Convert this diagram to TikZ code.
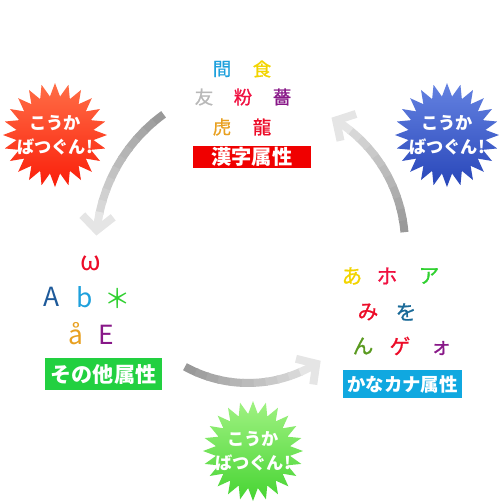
\documentclass[tikz,border=0pt]{standalone}
\usepackage{fontspec}
\setmainfont{Noto Sans CJK JP}
\newfontfamily\glyphfont{Noto Sans CJK JP}[FakeBold=0.9]
\usetikzlibrary{positioning,shapes.geometric,arrows.meta,calc}

\definecolor{kanjitag}{RGB}{240,0,0}
\definecolor{othertag}{RGB}{34,208,64}
\definecolor{kanatag}{RGB}{16,168,224}
\definecolor{gcyan}{RGB}{30,160,220}
\definecolor{gyellow}{RGB}{242,212,0}
\definecolor{ggray}{RGB}{184,184,184}
\definecolor{gpink}{RGB}{240,16,64}
\definecolor{gpurple}{RGB}{136,24,136}
\definecolor{gorange}{RGB}{232,160,32}
\definecolor{gred}{RGB}{236,12,40}
\definecolor{gnavy}{RGB}{30,90,154}
\definecolor{ggreen}{RGB}{48,208,48}
\definecolor{gteal}{RGB}{26,106,152}
\definecolor{golive}{RGB}{90,154,32}
\definecolor{redtop}{RGB}{255,110,70}
\definecolor{redbottom}{RGB}{250,30,10}
\definecolor{bluetop}{RGB}{100,130,225}
\definecolor{bluebottom}{RGB}{40,70,185}
\definecolor{greentop}{RGB}{160,242,130}
\definecolor{greenbottom}{RGB}{70,212,50}

\tikzset{
  glyph/.style={inner sep=0pt, font=\glyphfont\fontsize{10.5}{12}\selectfont},
  kanaglyph/.style={glyph, font=\glyphfont\fontsize{11.8}{13}\selectfont},
  latin/.style={inner sep=0pt, font=\fontsize{15}{17}\selectfont},
  tagbox/.style={fill=#1, text=white, inner sep=0pt,
    font=\bfseries\fontsize{11.5}{13}\selectfont},
  burst/.style={star, star points=24, star point ratio=1.34,
    minimum size=2.08cm, inner sep=0pt},
  bursttext/.style={align=center, text=white, inner sep=0pt,
    font=\bfseries\fontsize{9.8}{13.8}\selectfont},
  ringline/.style={line width=0.16cm}
}

% fading arc: centre, radius, start angle, end angle
\newcommand{\fadearc}[4]{%
  \foreach \i in {0,...,9} {
    \pgfmathsetmacro{\sa}{#3+(#4-#3)*\i/12}
    \pgfmathsetmacro{\ea}{#3+(#4-#3)*(\i+1)/12+0.8}
    \pgfmathsetmacro{\gl}{40-2.7*\i}
    \draw[ringline, draw=black!\gl] ($(#1)+(\sa:#2)$)
      arc[start angle=\sa, end angle=\ea, radius=#2];
  }
  \pgfmathsetmacro{\sa}{#3+(#4-#3)*10/12}
  \draw[ringline, draw=black!10,
    -{Straight Barb[length=0.28cm, width=0.62cm, sharp]}] ($(#1)+(\sa:#2)$)
    arc[start angle=\sa, end angle=#4, radius=#2];
}

\begin{document}
\begin{tikzpicture}

	\useasboundingbox (0,0) rectangle (10.06,-10.04);

	% kanji group
	\node[glyph, text=gcyan] (kan1) at (4.44,-1.38) {間};
	\node[glyph, text=gyellow] (kan2) at (5.24,-1.38) {食};
	\node[glyph, text=ggray] (kan3) at (4.08,-1.94) {友};
	\node[glyph, text=gpink] (kan4) at (4.86,-1.94) {粉};
	\node[glyph, text=gpurple] (kan5) at (5.64,-1.94) {薔};
	\node[glyph, text=gorange] (kan6) at (4.44,-2.54) {虎};
	\node[glyph, text=gred] (kan7) at (5.24,-2.54) {龍};
	\node[tagbox=kanjitag,
	minimum width=2.36cm,
	minimum height=0.44cm] (KANJI) at (5.04,-3.14) {漢字属性};

	% other group
	\node[latin, text=gred] (oth1) at (1.82,-5.26) {ω};
	\node[latin, text=gnavy] (oth2) at (1.04,-5.94) {A};
	\node[latin, text=gcyan] (oth3) at (1.70,-5.94) {b};
	\node[latin, text=ggreen] (oth4) at (2.36,-5.96) {＊};
	\node[latin, text=gorange] (oth5) at (1.52,-6.68) {å};
	\node[latin, text=gpurple] (oth6) at (2.12,-6.70) {E};
	\node[tagbox=othertag,
	font=\bfseries\fontsize{12}{14}\selectfont,
	minimum width=2.34cm,
	minimum height=0.64cm] (OTHER) at (2.07,-7.48) {その他属性};

	% kana group
	\node[kanaglyph, text=gyellow] (kana1) at (7.04,-5.52) {あ};
	\node[kanaglyph, text=gpink] (kana2) at (7.74,-5.52) {ホ};
	\node[kanaglyph, text=ggreen] (kana3) at (8.58,-5.52) {ア};
	\node[kanaglyph, text=gred] (kana4) at (7.36,-6.24) {み};
	\node[kanaglyph, text=gteal] (kana5) at (8.12,-6.24) {を};
	\node[kanaglyph, text=golive] (kana6) at (7.26,-6.92) {ん};
	\node[kanaglyph, text=gred] (kana7) at (8.00,-6.92) {ゲ};
	\node[kanaglyph, text=gpurple] (kana8) at (8.82,-6.96) {ォ};
	\node[tagbox=kanatag,
	font=\bfseries\fontsize{10.5}{12}\selectfont,
	minimum width=2.38cm,
	minimum height=0.56cm] (KANA) at (8.05,-7.68) {かなカナ属性};

	% starbursts
	\node[burst, top color=redtop, bottom color=redbottom] (REDSTAR) at (1.10,-2.70) {};
	\node[bursttext] (t1) at (REDSTAR.center) {こうか\\ばつぐん!};
	\node[burst, top color=bluetop, bottom color=bluebottom] (BLUESTAR) at (8.94,-2.70) {};
	\node[bursttext] (t2) at (BLUESTAR.center) {こうか\\ばつぐん!};
	\node[burst, minimum size=2.0cm, top color=greentop, bottom color=greenbottom] (GREENSTAR) at (5.06,-9.02) {};
	\node[bursttext] (t3) at (GREENSTAR.center) {こうか\\ばつぐん!};

	% cycle arrows
	\coordinate (westArc) at (5.20,-4.94);
	\coordinate (southArc) at (4.96,-5.06);
	\coordinate (eastArc) at (5.16,-4.90);
	\fadearc{westArc}{3.28cm}{126}{176}
	\fadearc{southArc}{2.60cm}{241}{304}
	\fadearc{eastArc}{2.94cm}{5}{60}

\end{tikzpicture}
\end{document}
